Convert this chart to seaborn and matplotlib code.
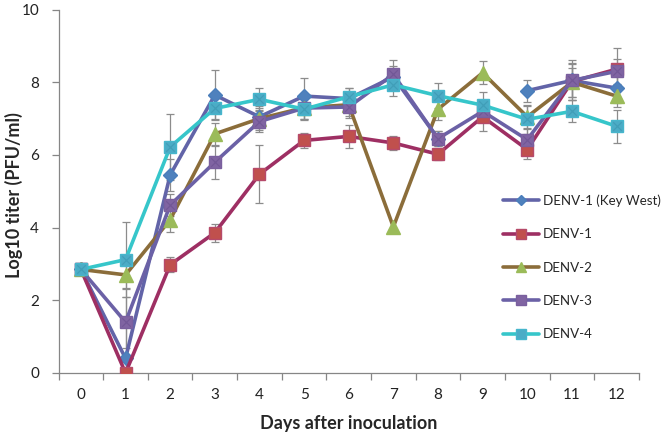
import numpy as np
import pandas as pd
import matplotlib
matplotlib.use("Agg")
import matplotlib.pyplot as plt
import seaborn as sns
from matplotlib.lines import Line2D

# === Data ===
days = list(range(13))
denv1_kw = [2.85, 0.40, 5.45, 7.65, 7.05, 7.62, 7.55, 8.15, 6.45, np.nan, 7.77, 8.05, 7.84]
denv1 = [2.85, 0.00, 2.98, 3.86, 5.47, 6.40, 6.51, 6.33, 6.02, 7.05, 6.15, 8.02, 8.36]
denv2 = [2.85, 2.70, 4.22, 6.58, 7.00, 7.30, 7.38, 4.02, 7.26, 8.26, 7.05, 8.00, 7.62]
denv3 = [2.85, 1.40, 4.62, 5.80, 6.92, 7.29, 7.32, 8.22, 6.45, 7.20, 6.42, 8.05, 8.30]
denv4 = [2.85, 3.12, 6.22, 7.28, 7.53, 7.26, 7.60, 7.93, 7.63, 7.37, 6.98, 7.20, 6.79]

err_kw = [0, 1.95, 0.45, 0.70, 0.30, 0.50, 0.30, 0.30, 0.20, 0, 0.30, 0.55, 0.40]
err_d1 = [0, 0.00, 0.20, 0.25, 0.80, 0.20, 0.32, 0.20, 0.15, 0.40, 0.25, 0.50, 0.58]
err_d2 = [0, 0.40, 0.35, 0.30, 0.30, 0.30, 0.30, 0.00, 0.30, 0.32, 0.30, 0.40, 0.30]
err_d3 = [0, 0.70, 0.30, 0.45, 0.30, 0.30, 0.30, 0.38, 0.20, 0.30, 0.30, 0.45, 0.35]
err_d4 = [0, 1.03, 0.90, 0.30, 0.30, 0.30, 0.25, 0.30, 0.35, 0.35, 0.40, 0.30, 0.45]

labels = ["DENV-1 (Key West)", "DENV-1", "DENV-2", "DENV-3", "DENV-4"]
series = [denv1_kw, denv1, denv2, denv3, denv4]
errors = [err_kw, err_d1, err_d2, err_d3, err_d4]

# Excel-ish styles: line colour, marker, marker face, marker edge, marker size, x overlay colour
styles = [
    ("#6264a8", "D", "#4f81bd", "#4a7ebb", 7, None),
    ("#9e2f63", "s", "#c0504d", "#b64a6a", 9, None),
    ("#8b6d3a", "^", "#9bbb59", "#9bbb59", 9.5, None),
    ("#6b61a6", "s", "#8064a2", "#7a5f9e", 9, "#6a4f8f"),
    ("#36c6ca", "s", "#4bacc6", "#46b6cc", 9, "#3a96b0"),
]

sns.set_style("ticks")
plt.rcParams['font.family'] = ['Lato', 'DejaVu Sans']

fig = plt.figure(figsize=(6.62, 4.36), dpi=100)
ax = fig.add_axes([0.0885, 0.1445, 0.8765, 0.8335])

# === Error bars first (thin grey) ===
for vals, err in zip(series, errors):
    v = np.array(vals, dtype=float)
    e = np.array(err, dtype=float)
    m = ~np.isnan(v) & (e > 0)
    ax.errorbar(np.array(days)[m], v[m], yerr=e[m], fmt='none', ecolor='#8c8c8c',
                elinewidth=0.9, capsize=3, capthick=0.9, zorder=1)

# === Lines with markers ===
handles = []
for i, (lab, vals, st) in enumerate(zip(labels, series, styles)):
    lc, mk, mf, me, ms, xc = st
    df = pd.DataFrame({'day': days, 'val': vals})
    # keep gaps where a value is missing
    df['seg'] = df['val'].isna().cumsum()
    df = df.dropna()
    sns.lineplot(data=df, x='day', y='val', units='seg', estimator=None, ax=ax,
                 color=lc, linewidth=2.6, marker=mk, markersize=ms,
                 markerfacecolor=mf, markeredgecolor=me, markeredgewidth=1.0,
                 zorder=2 + i, legend=False)
    if xc is not None:
        # faint "x" pattern inside the square markers, as in Excel
        sns.scatterplot(data=df, x='day', y='val', ax=ax, marker='x', s=38,
                        color=xc, linewidth=0.9, alpha=0.6, zorder=2.5 + i, legend=False)
    handles.append(Line2D([0], [0], color=lc, linewidth=2.6, marker=mk,
                          markersize=ms * 0.75, markerfacecolor=mf,
                          markeredgecolor=me, label=lab))

# === Axes styling ===
ax.set_xlim(-0.5, 12.5)
ax.set_ylim(0, 10)
ax.set_xticks(days)
ax.set_xticklabels([str(d) for d in days])
ax.set_xticks(np.arange(-0.5, 13, 1), minor=True)
ax.tick_params(axis='x', which='major', length=0, pad=11, labelsize=11, colors='#222222')
ax.tick_params(axis='x', which='minor', length=5, color='#868686', width=0.9)
ax.set_yticks([0, 2, 4, 6, 8, 10])
ax.tick_params(axis='y', length=5, width=0.9, labelsize=11, colors='#222222', pad=9)
ax.tick_params(axis='y', color='#868686')

sns.despine(ax=ax)
for s in ['left', 'bottom']:
    ax.spines[s].set_color('#868686')
    ax.spines[s].set_linewidth(0.9)

ax.set_xlabel("Days after inoculation", fontsize=13, fontweight='bold', labelpad=9)
ax.set_ylabel("Log10 titer (PFU/ml)", fontsize=13, fontweight='bold', va='center')
ax.yaxis.set_label_coords(-0.0768, 0.49)

ax.legend(handles=handles, loc='center left', bbox_to_anchor=(503 / 662, 1 - 267.5 / 436),
          bbox_transform=fig.transFigure, frameon=False, fontsize=9.6,
          handlelength=2.7, handletextpad=0.3, labelspacing=1.6, borderpad=0,
          borderaxespad=0)

fig.savefig("out.png", dpi=100)
